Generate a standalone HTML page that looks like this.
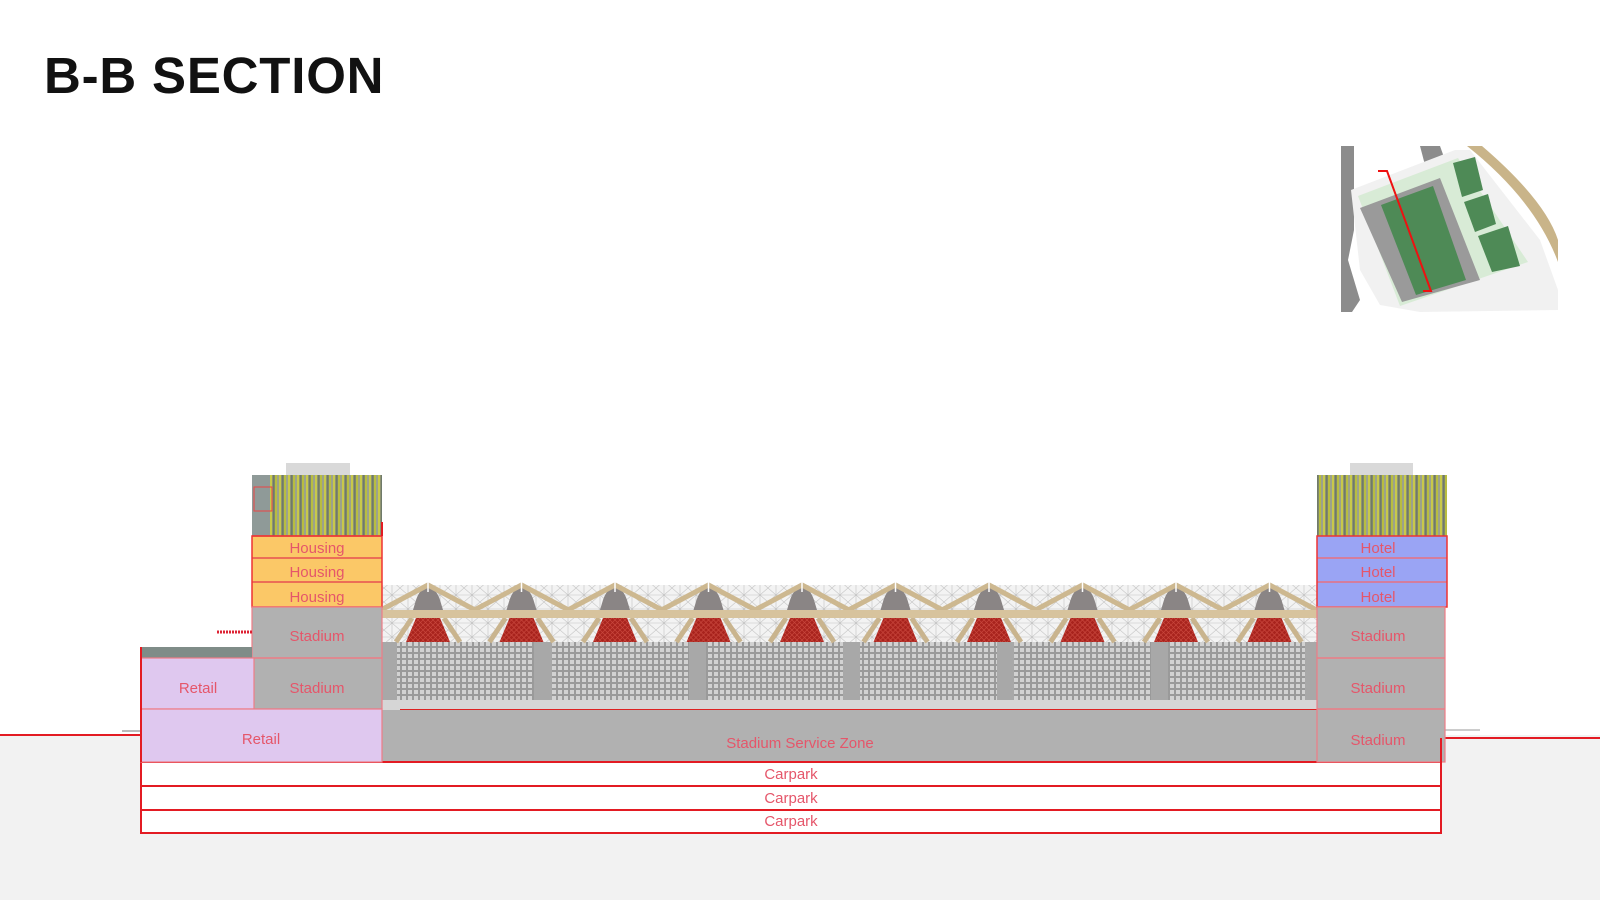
<!DOCTYPE html>
<html><head><meta charset="utf-8"><style>
html,body{margin:0;padding:0;background:#fff;width:1600px;height:900px;overflow:hidden}
svg{display:block}
text{font-family:"Liberation Sans",sans-serif}
.l{font-size:15px;fill:#e5566a;text-anchor:middle}
</style></head><body>
<svg width="1600" height="900" viewBox="0 0 1600 900" xmlns="http://www.w3.org/2000/svg">
<defs>
<pattern id="fac" width="9" height="20" patternUnits="userSpaceOnUse">
<rect width="9" height="20" fill="#8f9470"/>
<rect x="0" width="2" height="20" fill="#c8c94a"/>
<rect x="3" width="1.5" height="20" fill="#6f7a6a"/>
<rect x="5" width="2" height="20" fill="#b8bd40"/>
<rect x="7.5" width="1" height="20" fill="#a9b0a8"/>
</pattern>
<pattern id="seat" width="6" height="6" patternUnits="userSpaceOnUse">
<rect width="6" height="6" fill="#9a9a9a"/>
<rect width="4" height="4" fill="#d2d2d2"/>
</pattern>
<pattern id="lat" width="16" height="14" patternUnits="userSpaceOnUse">
<rect width="16" height="14" fill="#f3f3f3"/>
<path d="M0 0L16 14M16 0L0 14M8 0V14M0 7H16" stroke="#c4c4c4" stroke-width="0.6"/>
</pattern>
<pattern id="red" width="5" height="5" patternUnits="userSpaceOnUse">
<rect width="5" height="5" fill="#a8231d"/>
<path d="M0 0L5 5M5 0L0 5" stroke="#c8463c" stroke-width="0.7"/>
</pattern>
</defs>

<text x="44" y="93" font-size="51" font-weight="bold" letter-spacing="0.8" fill="#111">B-B SECTION</text>

<!-- ground -->
<rect x="0" y="735" width="1600" height="165" fill="#f2f2f2"/>
<path d="M0 735H141" stroke="#e31b23" stroke-width="2"/>
<path d="M1441 738H1600" stroke="#e31b23" stroke-width="2"/>
<path d="M1441 730H1480" stroke="#ccc" stroke-width="2"/>
<path d="M122 731H141" stroke="#bbb" stroke-width="2"/>

<!-- roof lattice -->
<rect x="382" y="585" width="935" height="57" fill="url(#lat)"/>
<!-- seating -->
<rect x="382" y="642" width="935" height="58" fill="#a8a8a8"/>
<rect x="397" y="642" width="137" height="58" fill="url(#seat)"/>
<rect x="552" y="642" width="137" height="58" fill="url(#seat)"/>
<rect x="706" y="642" width="137" height="58" fill="url(#seat)"/>
<rect x="860" y="642" width="137" height="58" fill="url(#seat)"/>
<rect x="1014" y="642" width="137" height="58" fill="url(#seat)"/>
<rect x="1168" y="642" width="137" height="58" fill="url(#seat)"/>
<rect x="382" y="700" width="935" height="10" fill="#d6d6d6"/>
<path d="M400 710H1317" stroke="#d22" stroke-width="2"/>

<!-- truss bays -->
<g fill="none">
<g id="t0" transform="translate(428,0)">
<polygon points="-12,618 12,618 22,642 -22,642" fill="url(#red)"/>
<path d="M-16 618L-32 642M16 618L32 642" stroke="#c9b48e" stroke-width="5"/>
<path d="M-12 600Q-8 588 0 587Q8 588 12 600L15 610H-15Z" fill="#8a8585"/>
<path d="M-47 610L0 585L47 610" stroke="#cdb890" stroke-width="5" fill="none"/>
<path d="M0 582V592" stroke="#fff" stroke-width="1.5"/>
</g>
<use href="#t0" x="93.5"/><use href="#t0" x="187"/><use href="#t0" x="280.5"/><use href="#t0" x="374"/>
<use href="#t0" x="467.5"/><use href="#t0" x="561"/><use href="#t0" x="654.5"/><use href="#t0" x="748"/><use href="#t0" x="841.5"/>
</g>
<rect x="382" y="610" width="935" height="8" fill="#d7c39d"/>

<!-- service zone -->
<rect x="382" y="710" width="935" height="52" fill="#b1b1b1"/>
<text class="l" x="800" y="748">Stadium Service Zone</text>

<!-- carparks -->
<rect x="141" y="762" width="1300" height="71" fill="#fff" stroke="#e31b23" stroke-width="2"/>
<path d="M141 786H1441M141 810H1441" stroke="#e31b23" stroke-width="2"/>
<text class="l" x="791" y="779">Carpark</text>
<text class="l" x="791" y="803">Carpark</text>
<text class="l" x="791" y="826">Carpark</text>

<!-- left building -->
<rect x="286" y="463" width="64" height="12" fill="#d9d9d9"/>
<rect x="252" y="475" width="130" height="61" fill="url(#fac)"/>
<rect x="252" y="475" width="18" height="61" fill="#8f9a98"/>
<rect x="254" y="487" width="18" height="24" fill="none" stroke="#e44" stroke-width="1"/>
<rect x="252" y="536" width="130" height="71" fill="#fbc867"/>
<path d="M252 536H382M252 558H382M252 582H382" stroke="#e85050" stroke-width="1.5"/>
<rect x="252" y="536" width="130" height="71" fill="none" stroke="#e33" stroke-width="1.5"/>
<path d="M382 522V536" stroke="#e31b23" stroke-width="2"/>
<text class="l" x="317" y="553">Housing</text>
<text class="l" x="317" y="577">Housing</text>
<text class="l" x="317" y="602">Housing</text>
<rect x="252" y="607" width="130" height="102" fill="#b1b1b1" stroke="#ee7c86" stroke-width="1.2"/>
<path d="M252 658H382" stroke="#ee7c86" stroke-width="1.5"/>
<text class="l" x="317" y="641">Stadium</text>
<text class="l" x="317" y="693">Stadium</text>
<path d="M217 632H252" stroke="#d23" stroke-width="3" stroke-dasharray="2 1"/>
<rect x="141" y="647" width="111" height="11" fill="#7f8c88"/>
<rect x="141" y="658" width="113" height="51" fill="#dfc8ef" stroke="#ee7c86" stroke-width="1.2"/>
<text class="l" x="198" y="693">Retail</text>
<rect x="141" y="709" width="241" height="53" fill="#dfc8ef" stroke="#ee7c86" stroke-width="1.2"/>
<text class="l" x="261" y="744">Retail</text>
<path d="M141 647V762" stroke="#e31b23" stroke-width="2"/>

<!-- right building -->
<rect x="1350" y="463" width="63" height="12" fill="#d9d9d9"/>
<rect x="1317" y="475" width="130" height="61" fill="url(#fac)"/>
<rect x="1317" y="536" width="130" height="71" fill="#9aa4f4"/>
<path d="M1317 558H1447M1317 582H1447" stroke="#e87080" stroke-width="1.5"/>
<rect x="1317" y="536" width="130" height="71" fill="none" stroke="#e33" stroke-width="1.5"/>
<text class="l" x="1378" y="553">Hotel</text>
<text class="l" x="1378" y="577">Hotel</text>
<text class="l" x="1378" y="602">Hotel</text>
<rect x="1317" y="607" width="128" height="155" fill="#b1b1b1" stroke="#ee7c86" stroke-width="1.2"/>
<path d="M1317 658H1445M1317 709H1445" stroke="#ee7c86" stroke-width="1.5"/>
<text class="l" x="1378" y="641">Stadium</text>
<text class="l" x="1378" y="693">Stadium</text>
<text class="l" x="1378" y="745">Stadium</text>
<path d="M1441 738V833" stroke="#e31b23" stroke-width="2"/>

<!-- key plan -->
<g>
<path d="M1341 146H1354V230L1348 260L1360 300L1352 312H1341Z" fill="#8c8c8c"/>
<path d="M1420 146H1440L1445 160L1425 165Z" fill="#8c8c8c"/>
<path d="M1467 146H1482Q1545 200 1558 240V262Q1535 200 1467 146Z" fill="#c9b489"/>
<path d="M1351 190L1455 150L1470 150L1540 240L1558 290L1558 310L1420 312L1380 305L1360 270Z" fill="#f1f1f1"/>
<polygon points="1358,196 1458,158 1528,262 1400,306" fill="#d8ebd6"/>
<polygon points="1360,208 1440,178 1480,280 1402,302" fill="#9a9a9a"/>
<polygon points="1381,205 1433,186 1466,280 1416,295" fill="#4e8a56"/>
<polygon points="1453,163 1475,157 1483,190 1462,197" fill="#4e8a56"/>
<polygon points="1464,202 1488,194 1496,224 1475,232" fill="#4e8a56"/>
<polygon points="1478,236 1508,226 1520,266 1492,272" fill="#4e8a56"/>
<path d="M1378 171H1387L1431 291H1423" stroke="#e11" stroke-width="2" fill="none"/>
</g>
</svg>
</body></html>
